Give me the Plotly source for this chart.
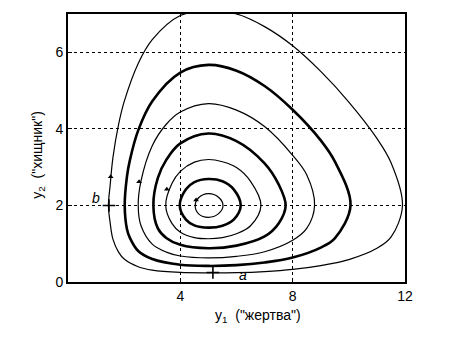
import plotly.graph_objects as go

# Closed orbits (predator-prey phase portrait), inner -> outer
orbit_1_x = [4.53, 4.65, 5.0, 5.35, 5.52, 5.35, 5.0, 4.65, 4.53]
orbit_1_y = [2.0, 2.2, 2.31, 2.22, 2.0, 1.78, 1.69, 1.78, 2.0]

orbit_2_x = [3.98, 4.2, 4.5, 5.0, 5.5, 5.9, 6.15, 5.9, 5.5, 5.0, 4.5, 4.2, 3.98]
orbit_2_y = [2.0, 2.42, 2.61, 2.69, 2.63, 2.42, 2.0, 1.63, 1.47, 1.42, 1.48, 1.63, 2.0]

orbit_3_x = [3.48, 3.7, 4.0, 4.5, 5.0, 5.5, 6.0, 6.5, 6.87, 6.5, 6.0, 5.5, 5.0, 4.5, 4.0, 3.7, 3.48]
orbit_3_y = [2.0, 2.57, 2.89, 3.13, 3.2, 3.14, 2.99, 2.63, 2.0, 1.47, 1.26, 1.16, 1.13, 1.16, 1.3, 1.53, 2.0]

orbit_4_x = [3.04, 3.2, 3.5, 4.0, 5.0, 6.0, 7.0, 7.5, 7.75, 7.5, 7.0, 6.0, 5.0, 4.0, 3.5, 3.2, 3.04]
orbit_4_y = [2.0, 2.72, 3.19, 3.62, 3.88, 3.68, 3.1, 2.55, 2.0, 1.53, 1.19, 0.95, 0.88, 0.97, 1.15, 1.4, 2.0]

orbit_5_x = [2.5, 2.6, 3.0, 3.5, 4.0, 5.0, 6.0, 7.0, 8.0, 8.5, 8.78, 8.5, 8.0, 7.0, 6.0, 5.0, 4.0, 3.5, 3.0, 2.6, 2.5]
orbit_5_y = [2.0, 2.64, 3.56, 4.12, 4.44, 4.66, 4.49, 4.06, 3.31, 2.8, 2.0, 1.4, 1.09, 0.79, 0.67, 0.63, 0.68, 0.78, 0.99, 1.47, 2.0]

orbit_6_x = [2.02, 2.1, 2.2, 2.5, 3.0, 4.0, 5.0, 6.0, 7.0, 8.0, 9.0, 9.5, 10.06, 9.5, 9.0, 8.0, 7.0, 6.0, 5.0, 4.0, 3.0, 2.5, 2.2, 2.1, 2.02]
orbit_6_y = [2.0, 2.76, 3.17, 3.96, 4.72, 5.47, 5.67, 5.52, 5.12, 4.5, 3.7, 3.15, 2.0, 1.14, 0.9, 0.64, 0.51, 0.44, 0.42, 0.45, 0.6, 0.81, 1.16, 1.38, 2.0]

orbit_7_x = [1.44, 1.5, 1.6, 1.8, 2.0, 2.5, 3.0, 4.0, 5.0, 6.0, 7.0, 8.0, 9.0, 10.0, 11.0, 11.5, 11.91,
             11.5, 11.0, 10.0, 9.0, 8.0, 7.0, 6.0, 5.0, 4.0, 3.0, 2.5, 2.0, 1.8, 1.6, 1.5, 1.44]
orbit_7_y = [2.0, 2.52, 3.25, 4.11, 4.71, 5.71, 6.33, 6.96, 7.08, 7.0, 6.67, 6.17, 5.5, 4.7, 3.75, 3.12, 2.0,
             1.17, 0.88, 0.585, 0.43, 0.33, 0.273, 0.245, 0.24, 0.25, 0.31, 0.4, 0.6, 0.78, 1.12, 1.55, 2.0]

orbits = [(orbit_1_x, orbit_1_y, 1.2), (orbit_2_x, orbit_2_y, 2.6), (orbit_3_x, orbit_3_y, 1.2),
          (orbit_4_x, orbit_4_y, 2.6), (orbit_5_x, orbit_5_y, 1.2), (orbit_6_x, orbit_6_y, 2.6),
          (orbit_7_x, orbit_7_y, 1.2)]

# Marked points a and b
point_labels = ["a", "b"]
point_x = [5.16, 1.46]
point_y = [0.25, 2.0]

# Direction arrows (head positions) on left branches
arrow_x = [1.52, 2.53, 3.52, 4.56]
arrow_y = [2.75, 2.62, 2.42, 2.14]

x_ticks = [4, 8, 12]
y_ticks = [0, 2, 4, 6]

fig = go.Figure()
for xs, ys, w in orbits:
    fig.add_trace(go.Scatter(x=xs, y=ys, mode="lines", line=dict(color="black", width=w, shape="spline", smoothing=1.0),
                             hoverinfo="skip", showlegend=False))

fig.add_trace(go.Scatter(x=point_x, y=point_y, mode="markers",
                         marker=dict(symbol="cross-thin", size=9, line=dict(color="black", width=1.6)),
                         showlegend=False, hoverinfo="skip"))

fig.add_trace(go.Scatter(x=arrow_x, y=arrow_y, mode="markers",
                         marker=dict(symbol="triangle-up", size=5, color="black"),
                         showlegend=False, hoverinfo="skip"))

font_family = "Liberation Sans, Arial, sans-serif"
annotations = []
annotations.append(dict(x=point_x[0], y=point_y[0], xref="x", yref="y", text="<i>a</i>", showarrow=False,
                        xshift=30, yshift=-3, font=dict(size=14, family=font_family, color="black")))
annotations.append(dict(x=point_x[1], y=point_y[1], xref="x", yref="y", text="<i>b</i>", showarrow=False,
                        xshift=-13, yshift=7, font=dict(size=14, family=font_family, color="black")))

annotations.append(dict(x=0.564, y=-0.128, xref="paper", yref="paper", xanchor="center", yanchor="middle",
                        text='y<sub>1</sub>  ("жертва")', showarrow=False,
                        font=dict(size=14, family=font_family, color="black")))
annotations.append(dict(x=-0.09, y=0.474, xref="paper", yref="paper", xanchor="center", yanchor="middle",
                        text='y<sub>2</sub>  ("хищник")', showarrow=False, textangle=-90,
                        font=dict(size=14, family=font_family, color="black")))

axis_common = dict(showline=True, linecolor="black", linewidth=1.6, mirror=True,
                   showgrid=True, gridcolor="black", gridwidth=1, griddash="dot",
                   zeroline=False, ticks="inside", ticklen=4, tickcolor="black",
                   tickfont=dict(size=14, family=font_family, color="black"))

fig.update_layout(
    width=462, height=343,
    margin=dict(l=68, r=57, t=14, b=61),
    paper_bgcolor="white", plot_bgcolor="white",
    xaxis=dict(range=[0, 12], tickvals=x_ticks, ticktext=[str(v) for v in x_ticks], **axis_common),
    yaxis=dict(range=[0, 7], tickvals=y_ticks, ticktext=[str(v) for v in y_ticks], **axis_common),
    annotations=annotations,
    showlegend=False,
)

fig.write_html("out.html")
